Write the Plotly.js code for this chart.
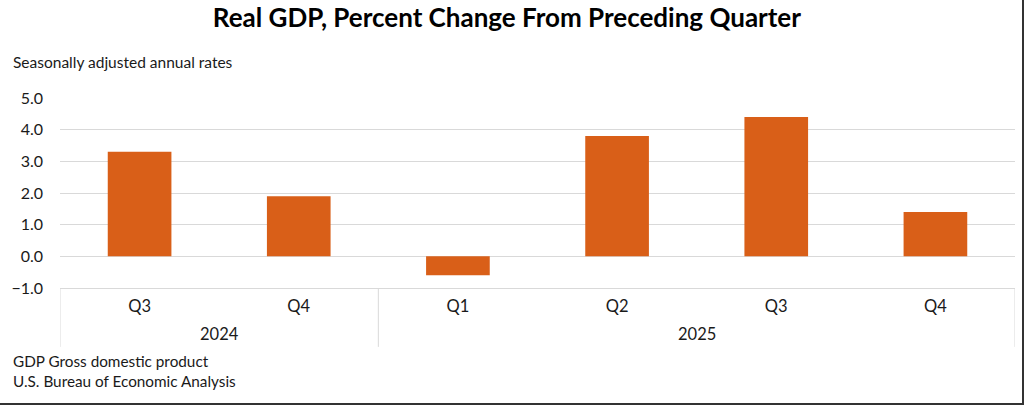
<!DOCTYPE html>
<html>
<head>
<meta charset="utf-8">
<script src="https://cdn.plot.ly/plotly-3.0.1.min.js"></script>
<style>
  html, body { margin: 0; padding: 0; background: #fff; }
  #wrap { position: relative; width: 1024px; height: 405px; }
  #frame { position: absolute; left: 0; top: 0; width: 1022px; height: 403px;
           border-right: 2px solid #333; border-bottom: 2px solid #333; pointer-events: none; }
</style>
</head>
<body>
<div id="wrap"><div id="chart" style="width:1024px;height:405px;"></div><div id="frame"></div></div>
<script>
const years = ['2024', '2024', '2025', '2025', '2025', '2025'];
const quarters = ['Q3', 'Q4', 'Q1', 'Q2', 'Q3', 'Q4'];
const values = [3.3, 1.9, -0.6, 3.8, 4.4, 1.4];
const yTicks = [-1, 0, 1, 2, 3, 4, 5];
const yTickText = ['\u22121.0', '0.0', '1.0', '2.0', '3.0', '4.0', '5.0'];

const FONT = 'Lato, "Liberation Sans", sans-serif';
const GRID = '#d9d9d9';

// unique category keys, shown with the quarter label only
const categories = years.map((y, i) => y + ' ' + quarters[i]);

// year groups: first/last index of each year, derived from the years array
const groups = [];
years.forEach((y, i) => {
  const g = groups[groups.length - 1];
  if (g && g.year === y) g.end = i;
  else groups.push({ year: y, start: i, end: i });
});

const boundaries = [-0.5].concat(groups.map(g => g.end + 0.5));

const shapes = boundaries.map(b => ({
  type: 'line', xref: 'x', yref: 'paper',
  x0: b, x1: b, y0: 0, y1: -0.31,
  line: { color: GRID, width: 1 }
}));

const yearLabels = groups.map(g => ({
  text: g.year, xref: 'x', yref: 'paper',
  x: (g.start + g.end) / 2, y: -0.242,
  xanchor: 'center', yanchor: 'middle', showarrow: false,
  font: { family: FONT, size: 16.5, color: '#1a1a1a' }
}));

const trace = {
  type: 'bar',
  x: categories,
  y: values,
  marker: { color: '#D95F18' },
  hoverinfo: 'y'
};

const layout = {
  width: 1024,
  height: 405,
  margin: { l: 60, r: 9, t: 98, b: 117 },
  paper_bgcolor: '#fff',
  plot_bgcolor: '#fff',
  bargap: 0.6,
  showlegend: false,
  font: { family: FONT, color: '#1a1a1a', size: 16 },
  title: {
    text: '<b>Real GDP, Percent Change From Preceding Quarter</b>',
    font: { family: FONT, size: 26, color: '#000' },
    x: 0.495, xanchor: 'center',
    y: 0.955, yanchor: 'middle', yref: 'container'
  },
  xaxis: {
    type: 'category',
    categoryorder: 'array',
    categoryarray: categories,
    tickvals: categories,
    ticktext: quarters,
    range: [-0.5, categories.length - 0.5],
    showline: true,
    linecolor: GRID,
    linewidth: 1,
    showgrid: false,
    zeroline: false,
    ticks: '',
    ticklabelstandoff: 3,
    tickfont: { family: FONT, size: 16.5, color: '#1a1a1a' }
  },
  yaxis: {
    range: [-1, 5],
    tickvals: yTicks,
    ticktext: yTickText,
    showgrid: true,
    gridcolor: GRID,
    gridwidth: 1,
    zeroline: false,
    showline: false,
    ticks: '',
    ticklabelstandoff: 16,
    tickfont: { family: FONT, size: 16, color: '#1a1a1a' }
  },
  shapes: shapes,
  annotations: yearLabels.concat([
    { text: 'Seasonally adjusted annual rates', xref: 'paper', yref: 'paper',
      x: -0.051, y: 1.192, xanchor: 'left', yanchor: 'middle', showarrow: false,
      font: { family: FONT, size: 15.5, color: '#1a1a1a' } },
    { text: 'GDP Gross domestic product', xref: 'paper', yref: 'paper',
      x: -0.051, y: -0.384, xanchor: 'left', yanchor: 'middle', showarrow: false,
      font: { family: FONT, size: 15.3, color: '#1a1a1a' } },
    { text: 'U.S. Bureau of Economic Analysis', xref: 'paper', yref: 'paper',
      x: -0.051, y: -0.49, xanchor: 'left', yanchor: 'middle', showarrow: false,
      font: { family: FONT, size: 15.3, color: '#1a1a1a' } }
  ])
};

Plotly.newPlot('chart', [trace], layout, { displayModeBar: false, staticPlot: true });
</script>
</body>
</html>
